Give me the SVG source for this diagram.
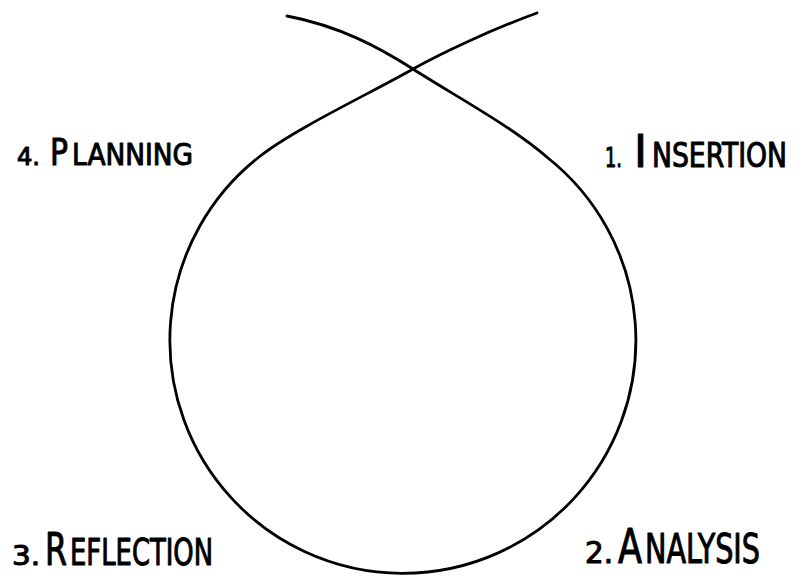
<svg xmlns="http://www.w3.org/2000/svg" width="802" height="576" viewBox="0 0 802 576">
<style>
.loop{fill:none;stroke:#000;stroke-width:2.8;stroke-linecap:round;stroke-linejoin:round}
.lbl{font-family:"DejaVu Sans Condensed","DejaVu Sans",sans-serif;fill:#000;stroke:#000;stroke-width:1;stroke-linejoin:round}
</style>
<rect width="802" height="576" fill="#fff"/>
<g id="connectors">
<path class="loop" d="M287,16 C340,26 380,48 413,69 C450,93 510,125 548,158 A233,233 0 1 1 259,157 C294,129 373,92 413,69 C440,54 490,30 537,13"/>
</g>
<g id="node-insertion">
<text class="lbl" y="167"><tspan x="605" font-size="26" textLength="17" lengthAdjust="spacingAndGlyphs">1.</tspan><tspan x="634" font-size="44" textLength="13" lengthAdjust="spacingAndGlyphs">I</tspan><tspan x="652" font-size="33" textLength="135" lengthAdjust="spacingAndGlyphs">NSERTION</tspan></text>
</g>
<g id="node-analysis">
<text class="lbl" y="563"><tspan x="585" font-size="30" textLength="28" lengthAdjust="spacingAndGlyphs">2.</tspan><tspan x="618" font-size="48" textLength="24" lengthAdjust="spacingAndGlyphs">A</tspan><tspan x="645" font-size="41" textLength="115" lengthAdjust="spacingAndGlyphs">NALYSIS</tspan></text>
</g>
<g id="node-reflection">
<text class="lbl" y="565"><tspan x="12" font-size="27" textLength="28" lengthAdjust="spacingAndGlyphs">3.</tspan><tspan x="45" font-size="44" textLength="22" lengthAdjust="spacingAndGlyphs">R</tspan><tspan x="70" font-size="37" textLength="143" lengthAdjust="spacingAndGlyphs">EFLECTION</tspan></text>
</g>
<g id="node-planning">
<text class="lbl" y="165"><tspan x="17" font-size="25" textLength="23" lengthAdjust="spacingAndGlyphs">4.</tspan><tspan x="50" font-size="38" textLength="18" lengthAdjust="spacingAndGlyphs">P</tspan><tspan x="72" font-size="30" textLength="121" lengthAdjust="spacingAndGlyphs">LANNING</tspan></text>
</g>
</svg>
